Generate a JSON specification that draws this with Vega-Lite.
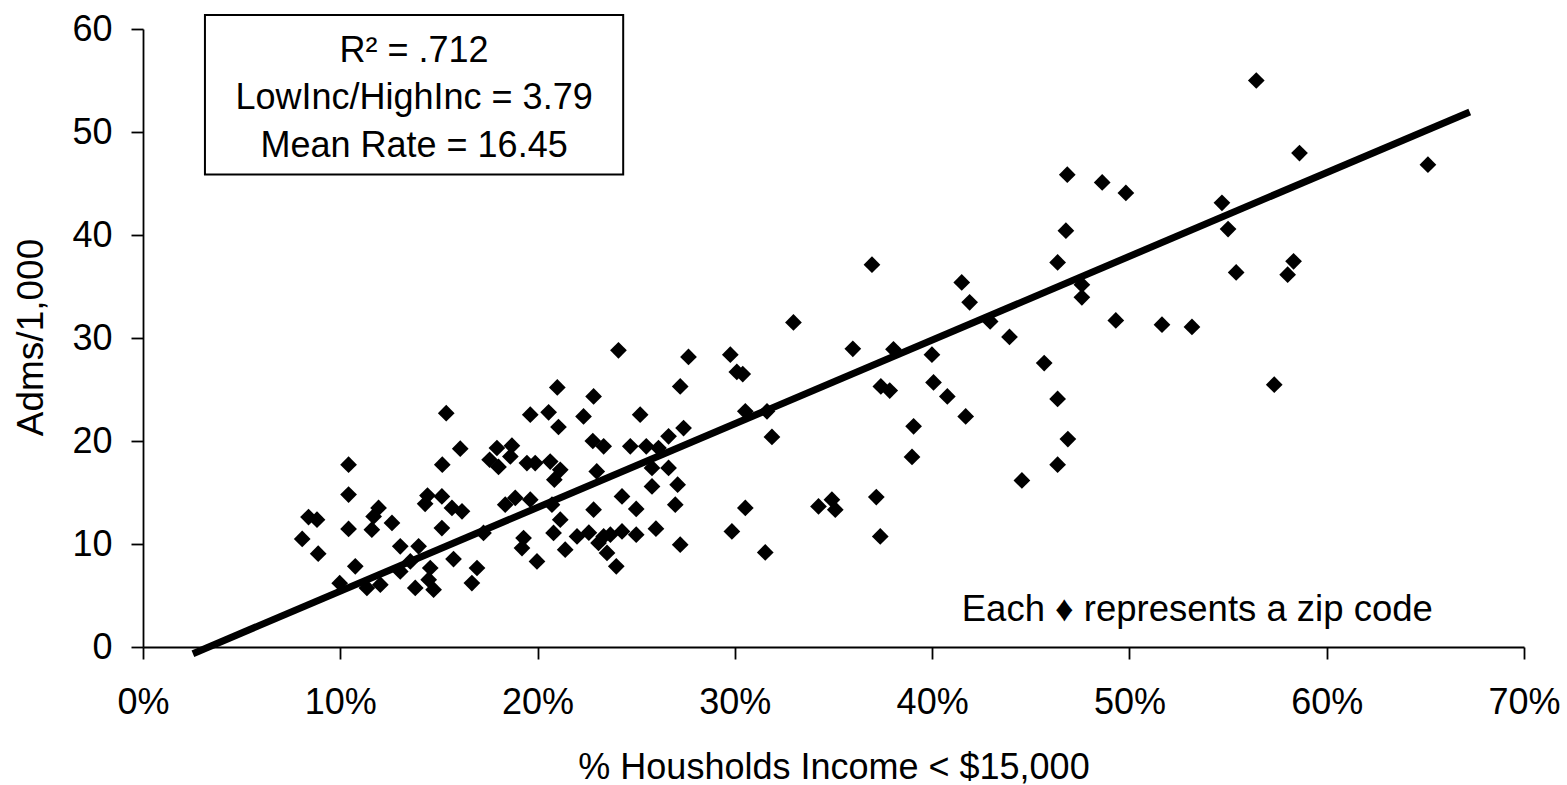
{
  "$schema": "https://vega.github.io/schema/vega-lite/v6.json",
  "width": 1381,
  "height": 618,
  "autosize": {"type": "none"},
  "padding": {"left": 143, "top": 29, "right": 43, "bottom": 138},
  "background": "white",
  "view": {"stroke": null},
  "config": {
    "font": "Liberation Sans",
    "axis": {
      "grid": false,
      "domainColor": "black",
      "domainWidth": 1.8,
      "tickColor": "black",
      "tickWidth": 1.8,
      "tickSize": 12,
      "labelFont": "Liberation Sans",
      "labelFontSize": 36,
      "labelColor": "black",
      "titleFont": "Liberation Sans",
      "titleFontWeight": "normal",
      "titleColor": "black"
    }
  },
  "datasets": {
    "zips": [
      {"pct": 0.0839, "rate": 12.62}, {"pct": 0.0882, "rate": 12.36}, {"pct": 0.0807, "rate": 10.49}, {"pct": 0.0888, "rate": 9.06},
      {"pct": 0.0997, "rate": 6.2}, {"pct": 0.1042, "rate": 17.7}, {"pct": 0.1042, "rate": 14.8}, {"pct": 0.1042, "rate": 11.46},
      {"pct": 0.1076, "rate": 7.83}, {"pct": 0.1194, "rate": 13.5}, {"pct": 0.1169, "rate": 12.68}, {"pct": 0.116, "rate": 11.39},
      {"pct": 0.1262, "rate": 12.04}, {"pct": 0.1135, "rate": 5.73}, {"pct": 0.1203, "rate": 6.05}, {"pct": 0.1304, "rate": 9.77},
      {"pct": 0.1397, "rate": 9.77}, {"pct": 0.1355, "rate": 8.31}, {"pct": 0.1304, "rate": 7.34}, {"pct": 0.138, "rate": 5.73},
      {"pct": 0.1473, "rate": 5.56}, {"pct": 0.1448, "rate": 6.53}, {"pct": 0.1456, "rate": 7.67}, {"pct": 0.1442, "rate": 14.7},
      {"pct": 0.143, "rate": 13.9}, {"pct": 0.1515, "rate": 14.62}, {"pct": 0.1566, "rate": 13.5}, {"pct": 0.1617, "rate": 13.17},
      {"pct": 0.1515, "rate": 11.55}, {"pct": 0.1574, "rate": 8.54}, {"pct": 0.1693, "rate": 7.67}, {"pct": 0.1667, "rate": 6.21},
      {"pct": 0.1537, "rate": 22.7}, {"pct": 0.1608, "rate": 19.25}, {"pct": 0.1517, "rate": 17.7}, {"pct": 0.1726, "rate": 11.07},
      {"pct": 0.1757, "rate": 18.18}, {"pct": 0.1794, "rate": 19.32}, {"pct": 0.1802, "rate": 17.48}, {"pct": 0.1862, "rate": 18.5},
      {"pct": 0.187, "rate": 19.54}, {"pct": 0.1836, "rate": 13.82}, {"pct": 0.1887, "rate": 14.47}, {"pct": 0.1963, "rate": 14.3},
      {"pct": 0.1946, "rate": 17.86}, {"pct": 0.1988, "rate": 17.86}, {"pct": 0.1963, "rate": 22.55}, {"pct": 0.1929, "rate": 10.58},
      {"pct": 0.1921, "rate": 9.61}, {"pct": 0.1997, "rate": 8.31}, {"pct": 0.2056, "rate": 22.78}, {"pct": 0.2064, "rate": 18.0},
      {"pct": 0.2085, "rate": 16.24}, {"pct": 0.2073, "rate": 13.82}, {"pct": 0.2081, "rate": 11.07}, {"pct": 0.21, "rate": 25.2},
      {"pct": 0.2106, "rate": 21.36}, {"pct": 0.2115, "rate": 17.2}, {"pct": 0.2115, "rate": 12.36}, {"pct": 0.214, "rate": 9.45},
      {"pct": 0.22, "rate": 10.74}, {"pct": 0.2233, "rate": 22.39}, {"pct": 0.226, "rate": 11.1}, {"pct": 0.228, "rate": 20.0},
      {"pct": 0.2284, "rate": 24.33}, {"pct": 0.2284, "rate": 13.33}, {"pct": 0.23, "rate": 17.05}, {"pct": 0.2309, "rate": 10.1},
      {"pct": 0.2335, "rate": 19.48}, {"pct": 0.2335, "rate": 10.74}, {"pct": 0.2369, "rate": 10.9}, {"pct": 0.2352, "rate": 9.13},
      {"pct": 0.2399, "rate": 7.83}, {"pct": 0.241, "rate": 28.8}, {"pct": 0.2428, "rate": 14.62}, {"pct": 0.2428, "rate": 11.22},
      {"pct": 0.247, "rate": 19.48}, {"pct": 0.25, "rate": 13.4}, {"pct": 0.25, "rate": 10.9}, {"pct": 0.252, "rate": 22.55},
      {"pct": 0.2551, "rate": 19.48}, {"pct": 0.258, "rate": 17.38}, {"pct": 0.258, "rate": 15.59}, {"pct": 0.26, "rate": 11.49},
      {"pct": 0.2613, "rate": 19.32}, {"pct": 0.2664, "rate": 20.45}, {"pct": 0.2664, "rate": 17.38}, {"pct": 0.2698, "rate": 13.82},
      {"pct": 0.271, "rate": 15.76}, {"pct": 0.2723, "rate": 25.3}, {"pct": 0.2723, "rate": 9.93}, {"pct": 0.274, "rate": 21.26},
      {"pct": 0.2765, "rate": 28.16}, {"pct": 0.2977, "rate": 28.38}, {"pct": 0.2985, "rate": 11.22}, {"pct": 0.301, "rate": 26.7},
      {"pct": 0.304, "rate": 26.5}, {"pct": 0.3053, "rate": 22.88}, {"pct": 0.3053, "rate": 13.5}, {"pct": 0.3154, "rate": 9.18},
      {"pct": 0.3163, "rate": 22.88}, {"pct": 0.3188, "rate": 20.39}, {"pct": 0.3297, "rate": 31.51}, {"pct": 0.3424, "rate": 13.65},
      {"pct": 0.3492, "rate": 14.3}, {"pct": 0.3509, "rate": 13.33}, {"pct": 0.3598, "rate": 28.95}, {"pct": 0.3695, "rate": 37.12},
      {"pct": 0.3717, "rate": 14.56}, {"pct": 0.3737, "rate": 10.74}, {"pct": 0.374, "rate": 25.3}, {"pct": 0.3785, "rate": 24.9},
      {"pct": 0.3804, "rate": 28.9}, {"pct": 0.3898, "rate": 18.45}, {"pct": 0.3906, "rate": 21.42}, {"pct": 0.3999, "rate": 28.38},
      {"pct": 0.4007, "rate": 25.69}, {"pct": 0.4077, "rate": 24.33}, {"pct": 0.415, "rate": 35.4}, {"pct": 0.417, "rate": 22.39},
      {"pct": 0.419, "rate": 33.46}, {"pct": 0.4294, "rate": 31.61}, {"pct": 0.4392, "rate": 30.1}, {"pct": 0.4455, "rate": 16.17},
      {"pct": 0.4568, "rate": 27.57}, {"pct": 0.4636, "rate": 37.34}, {"pct": 0.4636, "rate": 24.08}, {"pct": 0.4636, "rate": 17.7},
      {"pct": 0.4678, "rate": 40.42}, {"pct": 0.4685, "rate": 45.86}, {"pct": 0.4688, "rate": 20.19}, {"pct": 0.4759, "rate": 35.17},
      {"pct": 0.4759, "rate": 33.95}, {"pct": 0.4862, "rate": 45.1}, {"pct": 0.4931, "rate": 31.71}, {"pct": 0.4982, "rate": 44.08},
      {"pct": 0.5165, "rate": 31.29}, {"pct": 0.5317, "rate": 31.07}, {"pct": 0.5469, "rate": 43.13}, {"pct": 0.55, "rate": 40.58},
      {"pct": 0.5541, "rate": 36.37}, {"pct": 0.5643, "rate": 55.0}, {"pct": 0.5734, "rate": 25.47}, {"pct": 0.5802, "rate": 36.15},
      {"pct": 0.5832, "rate": 37.44}, {"pct": 0.5862, "rate": 47.96}, {"pct": 0.6513, "rate": 46.83}
    ],
    "fit": [
      {"pct": 0.0253, "rate": -0.65},
      {"pct": 0.6725, "rate": 51.95}
    ],
    "box": [
      {"x1": 0.0314, "x2": 0.2434, "y1": 45.88, "y2": 61.36}
    ],
    "stats": [
      {"pct": 0.1374, "rate": 56.75, "label": "R² = .712"},
      {"pct": 0.1374, "rate": 52.25, "label": "LowInc/HighInc = 3.79"},
      {"pct": 0.1374, "rate": 47.6, "label": "Mean Rate = 16.45"}
    ],
    "note": [
      {"pct": 0.415, "rate": 2.49, "label": "Each ♦ represents a zip code"}
    ]
  },
  "layer": [
    {
      "data": {"name": "zips"},
      "mark": {"type": "point", "shape": "diamond", "filled": true, "size": 280, "color": "black", "opacity": 1, "strokeWidth": 0},
      "encoding": {
        "x": {
          "field": "pct", "type": "quantitative",
          "scale": {"domain": [0, 0.7], "nice": false, "zero": true},
          "axis": {
            "values": [0, 0.1, 0.2, 0.3, 0.4, 0.5, 0.6, 0.7],
            "format": ".0%",
            "labelPadding": 26,
            "labelFlush": false,
            "title": "% Housholds Income < $15,000",
            "titleFontSize": 36,
            "titleX": 690.5,
            "titleY": 131,
            "titleAlign": "center",
            "titleBaseline": "alphabetic",
            "titleAnchor": null
          }
        },
        "y": {
          "field": "rate", "type": "quantitative",
          "scale": {"domain": [0, 60], "nice": false, "zero": true},
          "axis": {
            "values": [0, 10, 20, 30, 40, 50, 60],
            "labelPadding": 19,
            "labelFlush": false,
            "title": "Adms/1,000",
            "titleFontSize": 37,
            "titleX": -101,
            "titleY": 308,
            "titleAngle": -90,
            "titleAlign": "center",
            "titleBaseline": "alphabetic"
          }
        }
      }
    },
    {
      "data": {"name": "fit"},
      "mark": {"type": "line", "color": "black", "strokeWidth": 7, "clip": false, "strokeCap": "butt"},
      "encoding": {
        "x": {"field": "pct", "type": "quantitative"},
        "y": {"field": "rate", "type": "quantitative"}
      }
    },
    {
      "data": {"name": "box"},
      "mark": {"type": "rect", "fill": "white", "stroke": "black", "strokeWidth": 2, "clip": false},
      "encoding": {
        "x": {"field": "x1", "type": "quantitative"},
        "x2": {"field": "x2"},
        "y": {"field": "y1", "type": "quantitative"},
        "y2": {"field": "y2"}
      }
    },
    {
      "data": {"name": "stats"},
      "mark": {"type": "text", "font": "Liberation Sans", "fontSize": 36, "color": "black", "align": "center", "baseline": "alphabetic", "clip": false},
      "encoding": {
        "x": {"field": "pct", "type": "quantitative"},
        "y": {"field": "rate", "type": "quantitative"},
        "text": {"field": "label"}
      }
    },
    {
      "data": {"name": "note"},
      "mark": {"type": "text", "font": "Liberation Sans", "fontSize": 36.5, "color": "black", "align": "left", "baseline": "alphabetic", "clip": false},
      "encoding": {
        "x": {"field": "pct", "type": "quantitative"},
        "y": {"field": "rate", "type": "quantitative"},
        "text": {"field": "label"}
      }
    }
  ]
}
